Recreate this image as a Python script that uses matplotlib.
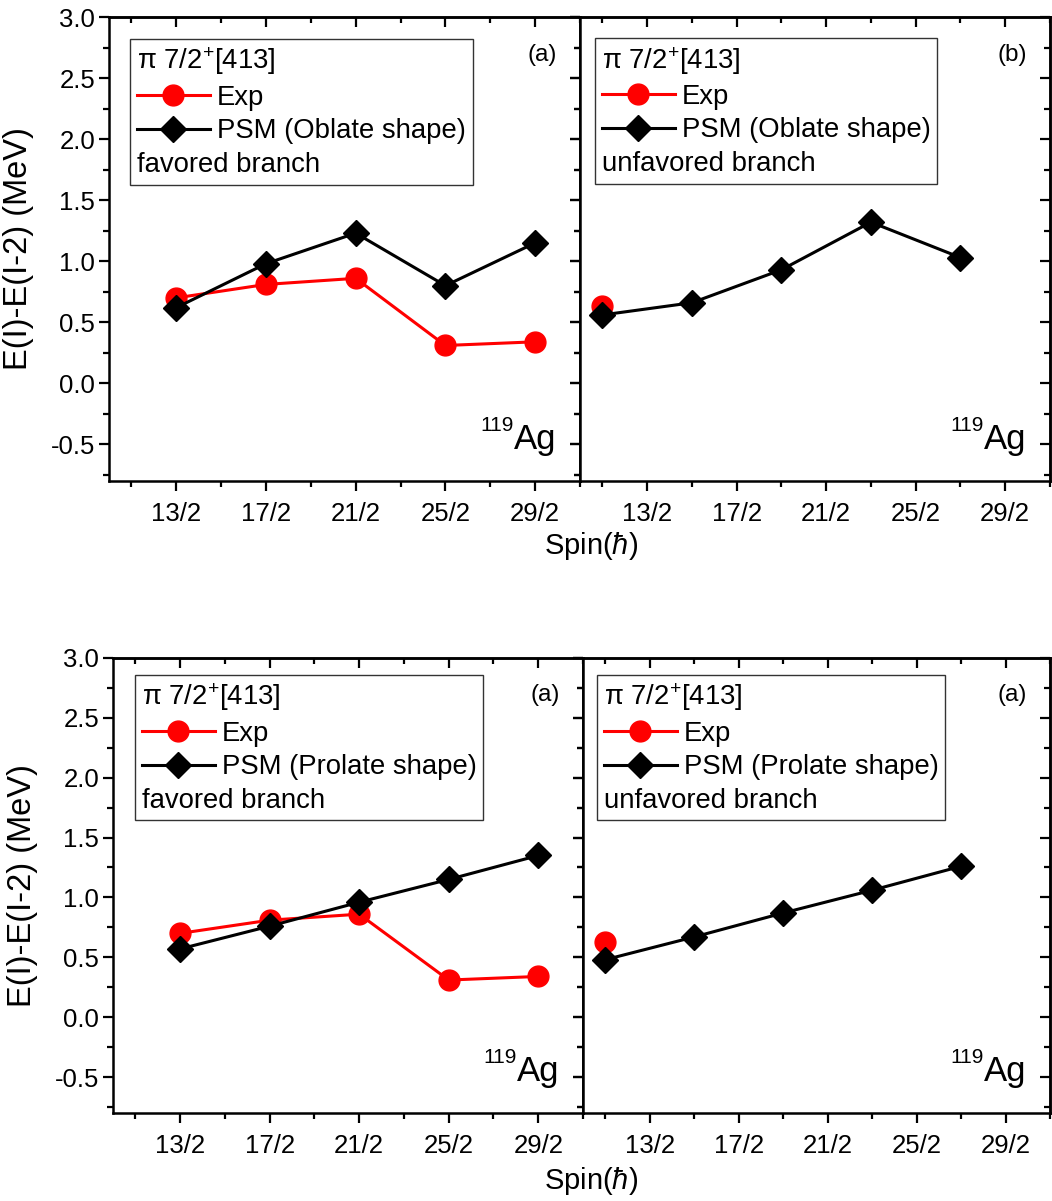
import matplotlib
matplotlib.use("Agg")
import matplotlib.pyplot as plt
from matplotlib.lines import Line2D
from matplotlib.text import Text
from matplotlib.legend_handler import HandlerBase

plt.rcParams['font.family'] = ['Liberation Sans', 'DejaVu Sans']
plt.rcParams['mathtext.fontset'] = 'custom'
plt.rcParams['mathtext.rm'] = 'Liberation Sans'
plt.rcParams['mathtext.it'] = 'Liberation Sans:italic'
plt.rcParams['mathtext.default'] = 'regular'

# spins (in units of hbar)
spin_fav = [6.5, 8.5, 10.5, 12.5, 14.5]
spin_unf = [5.5, 7.5, 9.5, 11.5, 13.5]
spin_exp_unf = [5.5]

# energies E(I)-E(I-2) in MeV
exp_fav = [0.70, 0.81, 0.86, 0.31, 0.34]
exp_unf = [0.63]
psm_oblate_fav = [0.62, 0.98, 1.23, 0.80, 1.15]
psm_oblate_unf = [0.56, 0.66, 0.93, 1.32, 1.03]
psm_prolate_fav = [0.57, 0.76, 0.96, 1.15, 1.35]
psm_prolate_unf = [0.48, 0.67, 0.87, 1.06, 1.26]

x_major = [6.5, 8.5, 10.5, 12.5, 14.5]
x_labels = ["13/2", "17/2", "21/2", "25/2", "29/2"]
x_minor = [5.5, 7.5, 9.5, 11.5, 13.5, 15.5]
y_major = [-0.5, 0.0, 0.5, 1.0, 1.5, 2.0, 2.5, 3.0]
y_labels = ["-0.5", "0.0", "0.5", "1.0", "1.5", "2.0", "2.5", "3.0"]
y_minor = [-0.75, -0.25, 0.25, 0.75, 1.25, 1.75, 2.25, 2.75]


class HandlerPlainText(HandlerBase):
    # legend row that is only text, flush with the left of the handles
    def __init__(self, text, **kw):
        super().__init__(**kw)
        self.text = text

    def create_artists(self, legend, orig_handle, xdescent, ydescent,
                       width, height, fontsize, trans):
        t = Text(-xdescent, (height - ydescent) / 2 - 0.12 * fontsize,
                 self.text, fontsize=fontsize, ha='left', va='center',
                 transform=trans)
        return [t]


def style_axes(ax, left_labels):
    ax.set_xlim(5, 15.5)
    ax.set_ylim(-0.8, 3.0)
    ax.set_xticks(x_major, labels=x_labels)
    ax.set_xticks(x_minor, minor=True)
    if left_labels:
        ax.set_yticks(y_major, labels=y_labels)
    else:
        ax.set_yticks(y_major, labels=[])
    ax.set_yticks(y_minor, minor=True)
    ax.tick_params(which='both', direction='out', width=1.6, labelsize=18.5,
                   top=False, right=False)
    ax.tick_params(which='major', length=7)
    ax.tick_params(which='minor', length=4)
    ax.tick_params(axis='x', pad=8)
    ax.tick_params(axis='y', pad=3)
    for sp in ax.spines.values():
        sp.set_linewidth(1.8)

    top = ax.secondary_xaxis('top')
    top.set_xticks(x_major, labels=[])
    top.set_xticks(x_minor, minor=True)
    top.tick_params(which='both', direction='in', width=1.6)
    top.tick_params(which='major', length=7)
    top.tick_params(which='minor', length=4)
    top.spines['top'].set_linewidth(1.8)

    right = ax.secondary_yaxis('right')
    right.set_yticks(y_major, labels=[])
    right.set_yticks(y_minor, minor=True)
    right.tick_params(which='both', direction='in', width=1.6)
    right.tick_params(which='major', length=7)
    right.tick_params(which='minor', length=4)
    right.spines['right'].set_linewidth(1.8)


def panel(ax, spin_e, exp_vals, spin_t, psm_vals, psm_label, branch,
          tag, legend_xy, left_labels):
    h_exp, = ax.plot(spin_e, exp_vals, color='red', lw=2.2, marker='o',
                     ms=15, label='Exp')
    h_psm, = ax.plot(spin_t, psm_vals, color='black', lw=2.2, marker='D',
                     ms=13.5, label=psm_label)
    style_axes(ax, left_labels)
    h_branch = Line2D([], [])
    leg = ax.legend([h_exp, h_psm, h_branch], ['Exp', psm_label, ''],
                    handler_map={h_branch: HandlerPlainText(branch)},
                    title="π 7/2$^{+}$[413]", title_fontsize=19.8,
                    alignment='left', loc='upper left',
                    bbox_to_anchor=legend_xy, borderaxespad=0,
                    fontsize=19.8, numpoints=1, handlelength=2.65,
                    handletextpad=0.25, labelspacing=0.27, borderpad=0.25,
                    fancybox=False, framealpha=1, edgecolor='#333333')
    leg.get_frame().set_linewidth(1.0)
    ax.text(0.92, 0.918, tag, transform=ax.transAxes, fontsize=17.5,
            ha='center', va='center')
    ag = ax.text(0.95, 0.07, "Ag", transform=ax.transAxes, fontsize=25,
                 ha='right', va='baseline')
    ax.annotate("119", xy=(0, 1), xycoords=ag, xytext=(0, 5),
                textcoords='offset points', fontsize=15, ha='right',
                va='top')
    if left_labels:
        ax.set_ylabel("E(I)-E(I-2) (MeV)", fontsize=23.5)
        ax.yaxis.set_label_coords(-0.16, 0.5)


fig = plt.figure(figsize=(10.52, 12.01), dpi=100)

ax1 = fig.add_axes([0.1036, 0.5995, 0.4477, 0.3863])
ax2 = fig.add_axes([0.5513, 0.5995, 0.4468, 0.3863])
ax3 = fig.add_axes([0.1074, 0.0733, 0.4468, 0.3789])
ax4 = fig.add_axes([0.5542, 0.0733, 0.4439, 0.3789])

panel(ax1, spin_fav, exp_fav, spin_fav, psm_oblate_fav,
      'PSM (Oblate shape)', 'favored branch', '(a)', (0.045, 0.953), True)
panel(ax2, spin_exp_unf, exp_unf, spin_unf, psm_oblate_unf,
      'PSM (Oblate shape)', 'unfavored branch', '(b)', (0.032, 0.955), False)
panel(ax3, spin_fav, exp_fav, spin_fav, psm_prolate_fav,
      'PSM (Prolate shape)', 'favored branch', '(a)', (0.047, 0.963), True)
panel(ax4, spin_exp_unf, exp_unf, spin_unf, psm_prolate_unf,
      'PSM (Prolate shape)', 'unfavored branch', '(a)', (0.030, 0.963), False)

fig.text(591 / 1052, 1 - 546 / 1201, "Spin($\\mathit{\\hbar}$)", fontsize=21,
         ha='center', va='center')
fig.text(591 / 1052, 1 - 1181 / 1201, "Spin($\\mathit{\\hbar}$)", fontsize=21,
         ha='center', va='center')

fig.savefig("out.png", dpi=100)
